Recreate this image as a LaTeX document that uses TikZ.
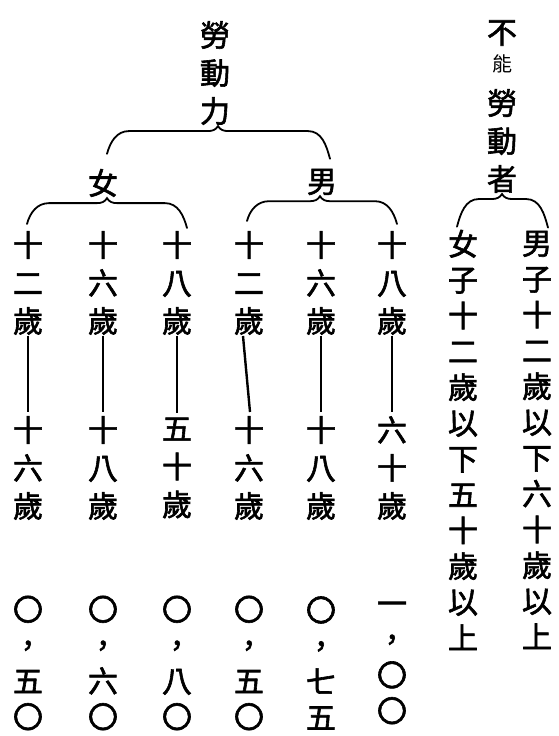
\documentclass[tikz,border=0pt]{standalone}
\usepackage{fontspec}
\usetikzlibrary{calc,positioning}
\newfontfamily\cjk[AutoFakeBold = 2]{Noto Sans CJK TC}

\tikzset{
	hanzi/.style = {font = \cjk\bfseries\fontsize{30}{38}\selectfont, align = center, inner sep = 1pt},
	hanzi note/.style = {font = \cjk\bfseries\fontsize{30}{35.8}\selectfont, align = center, inner sep = 1pt},
	span/.style = {line width = 2.4pt},
	curly/.style = {line width = 1.8pt, line cap = round}
}

% left end, tip, right end
\newcommand\curlybrace[3]{%
	\draw [curly] (#1) to [out = 75, in = 180] ($(#1 |- #2) + (22, -5)$) -- ($(#2) + (-10, -5)$) to [out = 0, in = 240] (#2)
		to [out = 300, in = 180] ($(#2) + (10, -5)$) -- ($(#3 |- #2) + (-22, -5)$) to [out = 0, in = 105] (#3);
}

\begin{document}
\begin{tikzpicture}[x = 1pt, y = 1pt]

	\useasboundingbox (0, 0) rectangle (559, 736);

	% Labour force
	
	\node [hanzi] (labour) at (215, 663) {勞\\動\\力};
	\node [hanzi] (female) at (103, 553) {女};
	\node [hanzi] (male) at (322, 554) {男};
	
	% Age ranges and figures
	
	\foreach \n/\x/\agefrom/\ageto/\tally in {
		1/28/{十\\二\\歲}/{十\\六\\歲}/{〇\\，\\五\\〇},
		2/103/{十\\六\\歲}/{十\\八\\歲}/{〇\\，\\六\\〇},
		3/177/{十\\八\\歲}/{五\\十\\歲}/{〇\\，\\八\\〇},
		4/249/{十\\二\\歲}/{十\\六\\歲}/{〇\\，\\五\\〇},
		5/321/{十\\六\\歲}/{十\\八\\歲}/{〇\\，\\七\\五},
		6/392/{十\\八\\歲}/{六\\十\\歲}/{一\\，\\〇\\〇}}
	{
		\node [hanzi] (from\n) at (\x, 453) {\agefrom};
		\node [hanzi] (upto\n) at (\x, 268) {\ageto};
		\node [hanzi note] (tally\n) at (\x, 73) {\tally};
	}
	
	\foreach \n in {1, 2, 3, 5, 6}
		\draw [span] (from\n.south) -- ([yshift = 3]upto\n.north);
	\draw [span] ([xshift = -6]from4.south) -- ([shift = {(1, 3)}]upto4.north);
	
	% Not able to work
	
	\node [hanzi] (not) at (502, 703) {不};
	\node [font = \cjk\fontsize{20}{20}\selectfont, inner sep = 1pt] (able) at (502, 672) {能};
	\node [hanzi] (workers) at (502, 595) {勞\\動\\者};
	\node [hanzi note] (girls) at (463, 296) {女\\子\\十\\二\\歲\\以\\下\\五\\十\\歲\\以\\上};
	\node [hanzi note] (boys) at (537, 296) {男\\子\\十\\二\\歲\\以\\下\\六\\十\\歲\\以\\上};
	
	% Braces
	
	\coordinate (labour tip) at ([xshift = 3]labour.south);
	\coordinate (labour left) at ([shift = {(4, 14)}]female.north);
	\coordinate (labour right) at ([shift = {(8, 9)}]male.north);
	\curlybrace{labour left}{labour tip}{labour right}
	
	\coordinate (female tip) at ([xshift = 4]female.south);
	\coordinate (female left) at ([shift = {(-1, 6)}]from1.north);
	\coordinate (female right) at ([shift = {(10, 2)}]from3.north);
	\curlybrace{female left}{female tip}{female right}
	
	\coordinate (male tip) at ([xshift = -2]male.south);
	\coordinate (male left) at ([shift = {(-2, 9)}]from4.north);
	\coordinate (male right) at ([shift = {(5, 6)}]from6.north);
	\curlybrace{male left}{male tip}{male right}
	
	\coordinate (workers tip) at (workers.south);
	\coordinate (workers left) at ([shift = {(-6, 2)}]girls.north);
	\coordinate (workers right) at ([shift = {(11, 2)}]boys.north);
	\curlybrace{workers left}{workers tip}{workers right}
	
\end{tikzpicture}
\end{document}
